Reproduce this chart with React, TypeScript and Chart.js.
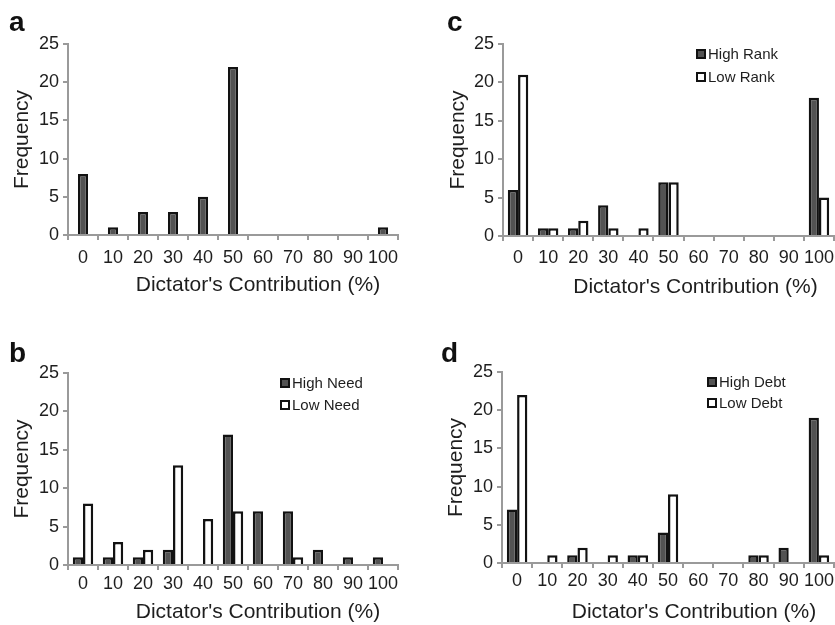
import React, { useEffect, useRef } from 'react';
import { Chart, registerables } from 'chart.js';

Chart.register(...registerables);

const FONT = '"Liberation Sans", Arial, Helvetica, sans-serif';

// ---- data ----
const categories = ['0', '10', '20', '30', '40', '50', '60', '70', '80', '90', '100'];
const yTickStep = 5;
const yMax = 25;

const allContrib = [8, 1, 3, 3, 5, 22, 0, 0, 0, 0, 1];

const highRank = [6, 1, 1, 4, 0, 7, 0, 0, 0, 0, 18];
const lowRank = [21, 1, 2, 1, 1, 7, 0, 0, 0, 0, 5];

const highNeed = [1, 1, 1, 2, 0, 17, 7, 7, 2, 1, 1];
const lowNeed = [8, 3, 2, 13, 6, 7, 0, 1, 0, 0, 0];

const highDebt = [7, 0, 1, 0, 1, 4, 0, 0, 1, 2, 19];
const lowDebt = [22, 1, 2, 1, 1, 9, 0, 0, 1, 0, 1];

const xTitle = "Dictator's Contribution (%)";
const yTitle = 'Frequency';

// ---- styles ----
const DARK = '#535353';
const LIGHT = '#ffffff';
const EDGE = '#121212';
const AXIS = '#9a9a9a';
const TEXT = '#1e1e1e';

type DS = { label: string; data: number[]; color: string };
type Spec = {
  letter: string;
  left: number; top: number; width: number; height: number;
  padTop: number; padRight: number; yWidth: number; xHeight: number;
  xTickPad: number; yTitlePad: number; xTitleDx: number; xTitleDy: number;
  datasets: DS[];
  single?: boolean;
  legend?: { dx: number; dy: number; gap: number };
  letterLeft: number; letterTop: number;
};

const specs: Spec[] = [
  {
    letter: 'a', left: 0, top: 0, width: 418, height: 305,
    padTop: 44, padRight: 20, yWidth: 68, xHeight: 70,
    xTickPad: 7, yTitlePad: 10, xTitleDx: 25, xTitleDy: 50,
    datasets: [{ label: 'All', data: allContrib, color: DARK }],
    single: true,
    letterLeft: 9, letterTop: 8,
  },
  {
    letter: 'c', left: 418, top: 0, width: 417, height: 305,
    padTop: 44, padRight: 1, yWidth: 85, xHeight: 69,
    xTickPad: 6, yTitlePad: 28, xTitleDx: 27, xTitleDy: 51,
    datasets: [
      { label: 'High Rank', data: highRank, color: DARK },
      { label: 'Low Rank', data: lowRank, color: LIGHT },
    ],
    legend: { dx: 193, dy: 5, gap: 23 },
    letterLeft: 29, letterTop: 8,
  },
  {
    letter: 'b', left: 0, top: 305, width: 418, height: 320,
    padTop: 68, padRight: 20, yWidth: 68, xHeight: 60,
    xTickPad: 3, yTitlePad: 10, xTitleDx: 25, xTitleDy: 47,
    datasets: [
      { label: 'High Need', data: highNeed, color: DARK },
      { label: 'Low Need', data: lowNeed, color: LIGHT },
    ],
    legend: { dx: 212, dy: 5, gap: 22 },
    letterLeft: 9, letterTop: 34,
  },
  {
    letter: 'd', left: 418, top: 305, width: 417, height: 320,
    padTop: 67, padRight: 1, yWidth: 84, xHeight: 62,
    xTickPad: 2, yTitlePad: 26, xTitleDx: 26, xTitleDy: 49,
    datasets: [
      { label: 'High Debt', data: highDebt, color: DARK },
      { label: 'Low Debt', data: lowDebt, color: LIGHT },
    ],
    legend: { dx: 205, dy: 5, gap: 21 },
    letterLeft: 23, letterTop: 34,
  },
];

const xTitlePlugin = {
  id: 'xTitle',
  afterDraw(chart: any, _args: any, opts: any) {
    const { ctx, chartArea } = chart;
    ctx.save();
    ctx.font = `21px ${FONT}`;
    ctx.fillStyle = TEXT;
    ctx.textAlign = 'center';
    ctx.textBaseline = 'middle';
    ctx.fillText(opts.text, (chartArea.left + chartArea.right) / 2 + opts.dx, chartArea.bottom + opts.dy);
    ctx.restore();
  },
};

const boxLegendPlugin = {
  id: 'boxLegend',
  afterDraw(chart: any, _args: any, opts: any) {
    if (!opts || !opts.show) return;
    const { ctx, chartArea } = chart;
    ctx.save();
    ctx.font = `15px ${FONT}`;
    ctx.textAlign = 'left';
    ctx.textBaseline = 'middle';
    chart.data.datasets.forEach((ds: any, i: number) => {
      const x = chartArea.left + opts.dx;
      const y = chartArea.top + opts.dy + i * opts.gap;
      ctx.fillStyle = ds.backgroundColor;
      ctx.fillRect(x, y, 10, 10);
      ctx.strokeStyle = EDGE;
      ctx.lineWidth = 2;
      ctx.strokeRect(x + 1, y + 1, 8, 8);
      ctx.fillStyle = TEXT;
      ctx.fillText(ds.label, x + 12, y + 5.5);
    });
    ctx.restore();
  },
};

function Panel({ spec }: { spec: Spec }) {
  const ref = useRef<HTMLCanvasElement | null>(null);
  useEffect(() => {
    if (!ref.current) return;
    const chart = new Chart(ref.current, {
      type: 'bar',
      data: {
        labels: categories,
        datasets: spec.datasets.map((d) => ({
          label: d.label,
          data: d.data,
          backgroundColor: d.color,
          borderColor: EDGE,
          borderWidth: 2.5,
          categoryPercentage: 0.68,
          barPercentage: spec.single ? 0.5 : 1,
        })),
      },
      options: {
        animation: false,
        responsive: false,
        devicePixelRatio: 1,
        layout: { padding: { top: spec.padTop, right: spec.padRight, left: 0, bottom: 0 } },
        plugins: {
          legend: { display: false },
          tooltip: { enabled: false },
          xTitle: { text: xTitle, dx: spec.xTitleDx, dy: spec.xTitleDy },
          boxLegend: spec.legend ? { show: true, ...spec.legend } : { show: false },
        } as any,
        scales: {
          x: {
            type: 'category',
            offset: true,
            grid: {
              display: true, drawOnChartArea: false, drawTicks: true,
              tickLength: 5, color: AXIS, lineWidth: 2, offset: true,
            },
            border: { display: true, color: AXIS, width: 2 },
            ticks: {
              color: TEXT, font: { family: FONT, size: 18 },
              padding: spec.xTickPad, autoSkip: false, maxRotation: 0, minRotation: 0,
            },
            afterFit: (s: any) => { s.height = spec.xHeight; s.paddingLeft = 0; s.paddingRight = 0; },
          },
          y: {
            min: 0, max: yMax,
            grid: { display: true, drawOnChartArea: false, drawTicks: true, tickLength: 5, color: AXIS, lineWidth: 2 },
            border: { display: true, color: AXIS, width: 2 },
            ticks: { stepSize: yTickStep, color: TEXT, font: { family: FONT, size: 18 }, padding: 4 },
            title: {
              display: true, text: yTitle, color: TEXT,
              font: { family: FONT, size: 21 }, padding: { top: spec.yTitlePad, bottom: 0 },
            },
            afterFit: (s: any) => { s.width = spec.yWidth; s.paddingTop = 0; s.paddingBottom = 0; },
          },
        },
      } as any,
      plugins: [xTitlePlugin, boxLegendPlugin],
    });
    return () => chart.destroy();
  }, [spec]);

  return (
    <div style={{ position: 'absolute', left: spec.left, top: spec.top, width: spec.width, height: spec.height }}>
      <canvas ref={ref} width={spec.width} height={spec.height} style={{ display: 'block' }} />
      <div
        style={{
          position: 'absolute', left: spec.letterLeft, top: spec.letterTop,
          fontFamily: FONT, fontWeight: 'bold', fontSize: 28, lineHeight: '28px', color: '#111',
        }}
      >
        {spec.letter}
      </div>
    </div>
  );
}

export default function App() {
  return (
    <div style={{ position: 'absolute', left: 0, top: 0, width: 835, height: 625, background: '#fff', overflow: 'hidden' }}>
      {specs.map((s) => (
        <Panel key={s.letter} spec={s} />
      ))}
    </div>
  );
}
